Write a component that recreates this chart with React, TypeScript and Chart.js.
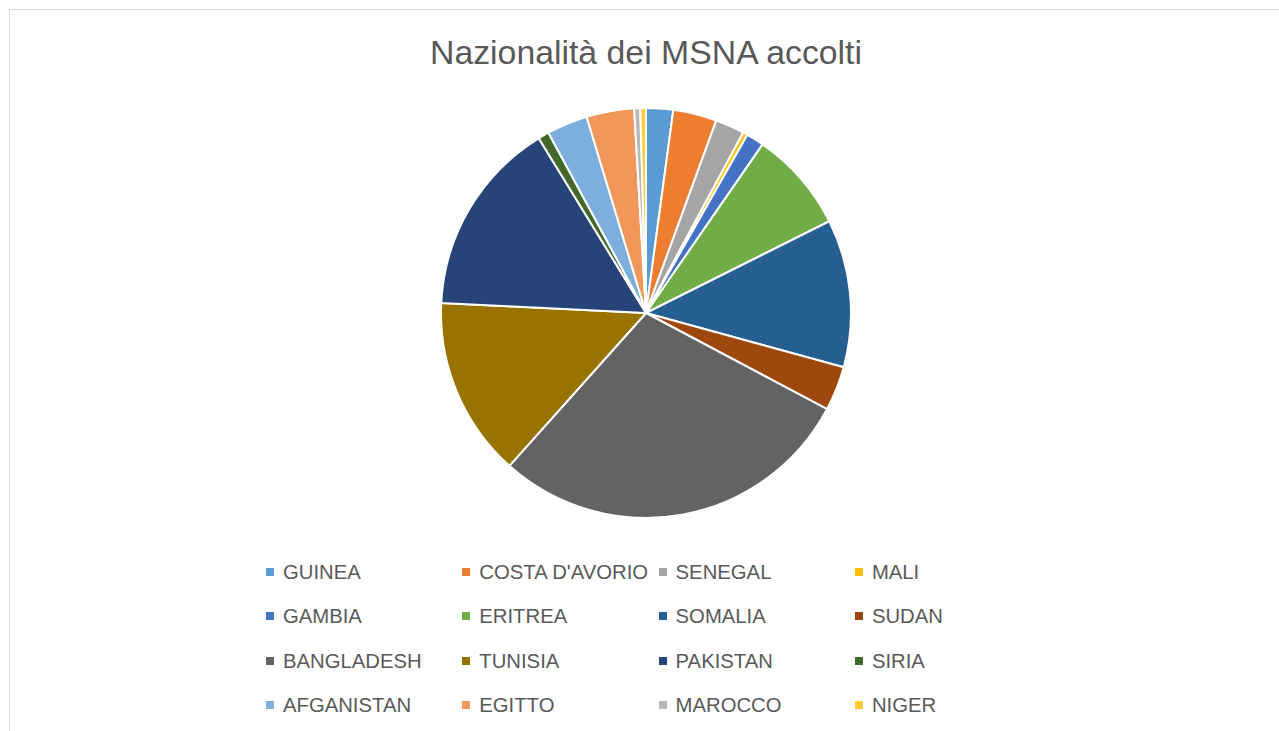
import React, { useEffect, useRef } from "react";
import { Chart, registerables } from "chart.js";

Chart.register(...registerables);

const countries = [
  "GUINEA", "COSTA D'AVORIO", "SENEGAL", "MALI",
  "GAMBIA", "ERITREA", "SOMALIA", "SUDAN",
  "BANGLADESH", "TUNISIA", "PAKISTAN", "SIRIA",
  "AFGANISTAN", "EGITTO", "MAROCCO", "NIGER",
];

const counts = [7.6, 12.3, 8.2, 1.3, 5, 28.5, 41.6, 12.5, 103, 50.6, 55.2, 3.1, 11.5, 13.4, 1.7, 1.6];

const colors = [
  "#5B9BD5", "#ED7D31", "#A5A5A5", "#FFC000",
  "#4472C4", "#70AD47", "#255E91", "#9E480E",
  "#636363", "#997300", "#264478", "#43682B",
  "#7CAFDD", "#F1975A", "#B7B7B7", "#FFCD33",
];

const title = "Nazionalità dei MSNA accolti";

export default function App() {
  const ref = useRef<HTMLCanvasElement | null>(null);
  useEffect(() => {
    if (!ref.current) return;
    const chart = new Chart(ref.current, {
      type: "pie",
      data: {
        labels: countries,
        datasets: [
          {
            data: counts,
            backgroundColor: colors,
            borderColor: "#FFFFFF",
            borderWidth: 2,
          },
        ],
      },
      options: {
        animation: false,
        responsive: false,
        maintainAspectRatio: false,
        layout: { padding: 0 },
        plugins: {
          legend: { display: false },
          title: { display: false },
          tooltip: { enabled: false },
        },
      },
    });
    return () => chart.destroy();
  }, []);

  const font = "'Liberation Sans', Arial, sans-serif";
  return (
    <div style={{ position: "absolute", left: 0, top: 0, width: 1279, height: 731, overflow: "hidden", background: "#fff", fontFamily: font }}>
      <div style={{ position: "absolute", left: 9, top: 9, width: 1300, height: 760, border: "1px solid #D9D9D9" }} />
      <div style={{ position: "absolute", left: 9, width: 1274, top: 31, textAlign: "center", fontSize: 33.8, color: "#595959", lineHeight: "42px" }}>
        {title}
      </div>
      <div style={{ position: "absolute", left: 440, top: 107, width: 412, height: 412 }}>
        <canvas ref={ref} width={412} height={412} style={{ width: 412, height: 412 }} />
      </div>
      {countries.map((c, i) => {
        const col = i % 4;
        const row = Math.floor(i / 4);
        const x = 266 + col * 196.3;
        const y = 572 + row * 44.3;
        return (
          <div key={c} style={{ position: "absolute", left: x, top: y - 12, height: 24, display: "flex", alignItems: "center", whiteSpace: "nowrap" }}>
            <div style={{ width: 8, height: 8, background: colors[i], marginRight: 9 }} />
            <span style={{ fontSize: 20.3, color: "#595959", lineHeight: "24px" }}>{c}</span>
          </div>
        );
      })}
    </div>
  );
}
